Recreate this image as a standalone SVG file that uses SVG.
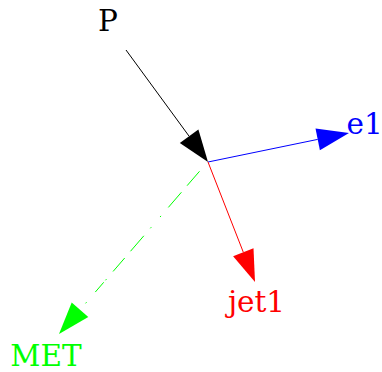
<svg xmlns="http://www.w3.org/2000/svg" width="382" height="372" viewBox="0 0 382 372">
<style>
text{font-family:"DejaVu Serif","Liberation Serif",serif;font-size:29.5px;text-anchor:middle}
.e{fill:none;stroke-width:1}
</style>
<rect width="382" height="372" fill="#fff"/>
<g id="edges">
<g id="edge-P"><line class="e" x1="126" y1="50" x2="189.1" y2="136.2" stroke="#000"/><polygon points="208,162 198.4,129.4 179.8,143" fill="#000"/></g>
<g id="edge-e1"><line class="e" x1="208" y1="162" x2="317.7" y2="139.4" stroke="#00f"/><polygon points="349,133 319.9,150.2 315.5,128.6" fill="#00f"/></g>
<g id="edge-jet1"><line class="e" x1="208" y1="162" x2="243.3" y2="252.2" stroke="#f00"/><polygon points="255,282 253.5,248.2 233.1,256.2" fill="#f00"/></g>
<g id="edge-MET"><line class="e" x1="199.5" y1="171.3" x2="80" y2="309.8" stroke="#0f0" stroke-dasharray="19 8.7 20 11.2 1.5 13.4 1.5 9.9 20.4 8.9 17.8 10.1 1.5 2.7 12.9 13.4 1.5 20"/><polygon points="59,334 88.3,317 71.7,302.6" fill="#0f0"/></g>
</g>
<g id="P"><text x="108" y="31" fill="#000">P</text></g>
<g id="e1"><text x="346.5" y="133.5" fill="#00f" style="text-anchor:start">e1</text></g>
<g id="jet1"><text x="256.5" y="312" fill="#f00">jet1</text></g>
<g id="MET"><text x="46" y="366" fill="#0f0">MET</text></g>
</svg>
